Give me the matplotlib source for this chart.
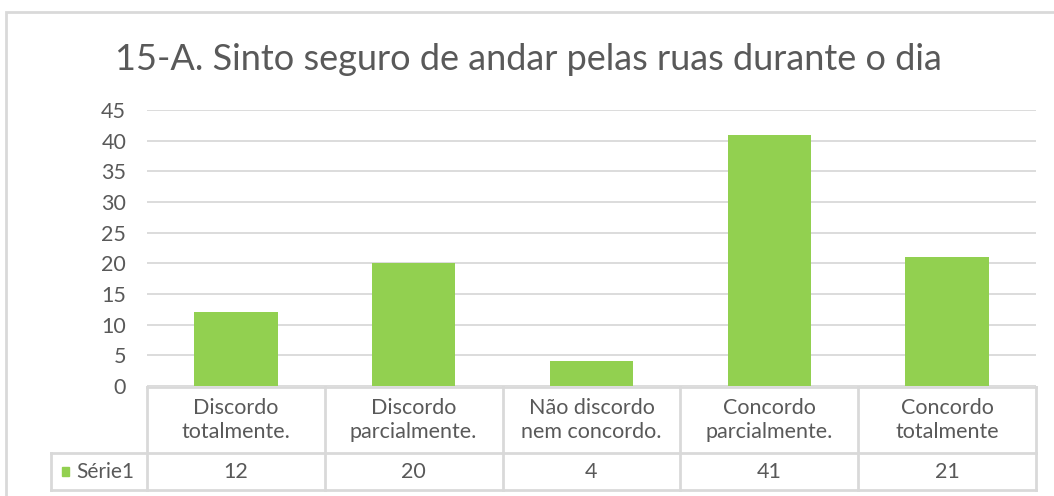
import matplotlib
matplotlib.use("Agg")
import matplotlib.pyplot as plt
from matplotlib.patches import Rectangle

# Data
categories = ["Discordo\ntotalmente.", "Discordo\nparcialmente.", "Não discordo\nnem concordo.",
              "Concordo\nparcialmente.", "Concordo\ntotalmente"]
values = [12, 20, 4, 41, 21]
series_name = "Série1"
title = "15-A. Sinto seguro de andar pelas ruas durante o dia"
yticks = [0, 5, 10, 15, 20, 25, 30, 35, 40, 45]

plt.rcParams["font.family"] = ["Lato", "DejaVu Sans"]
text_color = "#595959"
grid_color = "#D9D9D9"
bar_color = "#92D050"

W, H = 1054, 496
fig = plt.figure(figsize=(W / 100, H / 100), dpi=100)


def box(x0, y0, x1, y1):
    # pixel box (top-left origin) -> figure fraction
    return [x0 / W, 1 - y1 / H, (x1 - x0) / W, (y1 - y0) / H]


# outer chart border
fig.patches.append(Rectangle((6 / W, -0.1), 1.2, 1 - 12 / H + 0.1, transform=fig.transFigure,
                             fill=False, edgecolor=grid_color, linewidth=2))

# bar axes
ax = fig.add_axes(box(147, 110, 1036, 386))
x = range(len(values))
ax.bar(x, values, width=0.47, color=bar_color, zorder=3)
ax.set_xlim(-0.5, len(values) - 0.5)
ax.set_ylim(0, 45)
ax.set_yticks(yticks)
ax.set_xticks([])
ax.tick_params(axis="y", length=0, pad=15, labelsize=15.5, labelcolor=text_color)
ax.grid(axis="y", color=grid_color, linewidth=1.3, zorder=0)
for s in ax.spines.values():
    s.set_visible(False)

fig.text(528 / W, 1 - 59 / H, title, ha="center", va="center", fontsize=26, color=text_color)

# data table under the bars
first_w = 96 / 178
tx = fig.add_axes(box(51, 387, 1036, 490))
tx.set_xlim(-0.5 - first_w, len(values) - 0.5)
tx.set_ylim(0, 103)
tx.axis("off")
lk = dict(color=grid_color, linewidth=2, clip_on=False)
tx.plot([-0.5, len(values) - 0.5], [103, 103], **lk)
tx.plot([-0.5 - first_w, len(values) - 0.5], [37, 37], **lk)
tx.plot([-0.5 - first_w, len(values) - 0.5], [0, 0], **lk)
tx.plot([-0.5 - first_w, -0.5 - first_w], [0, 37], **lk)
for i in range(len(values) + 1):
    tx.plot([i - 0.5, i - 0.5], [0, 103], **lk)
for i, (c, v) in enumerate(zip(categories, values)):
    tx.text(i, 70, c, ha="center", va="center", fontsize=15.5, color=text_color, linespacing=1.3)
    tx.text(i, 18.5, str(v), ha="center", va="center", fontsize=15.5, color=text_color)
tx.add_patch(Rectangle((-0.5 - first_w + 0.06, 14), 0.04, 9, color=bar_color, clip_on=False))
tx.text(-0.5 - first_w + 0.14, 18.5, series_name, ha="left", va="center", fontsize=15, color=text_color)

fig.savefig("out.png", dpi=100)
